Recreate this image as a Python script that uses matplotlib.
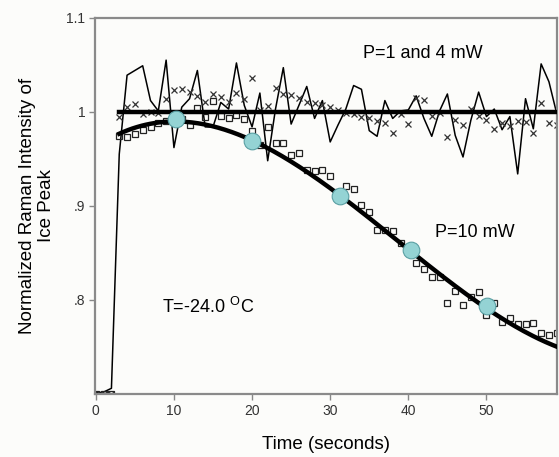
import numpy as np
import matplotlib.pyplot as plt

plt.rcParams['font.family'] = ['Liberation Sans', 'DejaVu Sans']

# time axis (seconds)
t = np.arange(0, 60)

# thin line: P=1 and 4 mW trace
line_14 = [0.701, 0.702, 0.706, 0.955, 1.039, 1.044, 1.049, 1.012, 1.001, 1.055,
           0.962, 1.005, 1.014, 1.044, 0.984, 0.984, 1.010, 1.003, 1.052, 1.007,
           0.984, 1.020, 0.948, 1.003, 1.047, 0.987, 1.007, 1.027, 0.993, 1.012,
           0.968, 0.986, 1.003, 1.028, 1.024, 0.980, 0.974, 1.012, 0.993, 1.001,
           1.002, 1.017, 0.993, 0.974, 1.001, 1.019, 0.975, 0.952, 0.991, 1.021,
           0.995, 1.003, 0.981, 0.995, 0.934, 1.014, 0.982, 1.051, 1.032, 0.998]

# crosses: P=1 and 4 mW points
cross_14 = [0.700, 0.700, 0.700, 0.995, 1.005, 1.008, 0.998, 1.000, 0.999, 1.014,
            1.023, 1.024, 1.021, 1.017, 1.010, 1.019, 1.016, 1.011, 1.020, 1.014,
            1.036, 1.002, 1.006, 1.025, 1.019, 1.018, 1.015, 1.011, 1.009, 1.007,
            1.005, 1.002, 0.999, 0.998, 0.994, 0.993, 0.990, 0.988, 0.978, 0.998,
            0.987, 1.015, 1.013, 0.996, 0.999, 0.973, 0.991, 0.986, 1.003, 0.996,
            0.991, 0.982, 0.988, 0.985, 0.990, 0.989, 0.977, 1.009, 0.988, 0.986]

# squares: P=10 mW points
square_10 = [0.700, 0.700, 0.700, 0.974, 0.973, 0.976, 0.981, 0.984, 0.988, 0.990,
             0.993, 0.992, 0.986, 1.004, 0.995, 1.012, 0.996, 0.993, 0.997, 0.992,
             0.980, 0.965, 0.984, 0.967, 0.967, 0.954, 0.956, 0.938, 0.937, 0.938,
             0.932, 0.915, 0.921, 0.918, 0.901, 0.893, 0.874, 0.874, 0.873, 0.861,
             0.855, 0.839, 0.833, 0.824, 0.824, 0.797, 0.809, 0.795, 0.803, 0.808,
             0.784, 0.797, 0.776, 0.781, 0.774, 0.774, 0.775, 0.765, 0.763, 0.765]

# fitted curve knots (P=10 mW) and flat fit (P=1,4 mW)
fit_t = [3, 10, 20, 31, 40, 50, 59]
fit_v = [0.975, 0.993, 0.969, 0.911, 0.853, 0.794, 0.749]
flat_v = 1.0

# highlighted circles
circ_t = [10.3, 20.0, 31.2, 40.3, 50.1]
circ_v = [0.992, 0.969, 0.911, 0.853, 0.794]

fig = plt.figure(figsize=(5.59, 4.57), dpi=100, facecolor='#fcfcfa')
ax = fig.add_axes([0.170, 0.138, 0.826, 0.823])
ax.set_facecolor('#fcfcfa')

ax.plot(t, line_14, color='black', lw=1.1, zorder=2)
ax.plot(t, cross_14, ls='none', marker='x', ms=4.2, mew=0.9, color='#333333', zorder=2)
ax.plot(t, square_10, ls='none', marker='s', ms=4, mew=0.9, mfc='none', mec='#222222', zorder=2)

coef = np.polyfit(fit_t, fit_v, 3)
tt = np.linspace(3, 59, 200)
ax.plot(tt, np.polyval(coef, tt), color='black', lw=3.2, zorder=3)
ax.plot([3, 59], [flat_v, flat_v], color='black', lw=3.2, zorder=3)

ax.plot(circ_t, circ_v, ls='none', marker='o', ms=12, mfc='#94d3d4', mec='#5a9fa3', mew=0.8, zorder=4)

ax.set_xlim(-0.1, 59)
ax.set_ylim(0.70, 1.1)
ax.set_xticks([0, 10, 20, 30, 40, 50])
ax.set_yticks([0.8, 0.9, 1.0, 1.1])
ax.set_yticklabels(['.8', '.9', '1', '1.1'])
ax.tick_params(direction='out', length=4, width=1, pad=3, color='#888888', labelsize=10, labelcolor='#333333')
for s in ax.spines.values():
    s.set_color('#8a8a8a')
    s.set_linewidth(1.6)

ax.text(41.8, 1.062, 'P=1 and 4 mW', fontsize=13, ha='center', va='center')
ax.text(48.5, 0.872, 'P=10 mW', fontsize=13, ha='center', va='center')
ax.text(8.5, 0.792, 'T=-24.0 $^{\\mathregular{O}}$C', fontsize=13, ha='left', va='center')

ax.set_xlabel('Time (seconds)', fontsize=13.5, labelpad=13)
ax.set_ylabel('Normalized Raman Intensity of\nIce Peak', fontsize=13.5, labelpad=8)

fig.savefig('out.png', dpi=100, facecolor=fig.get_facecolor())
